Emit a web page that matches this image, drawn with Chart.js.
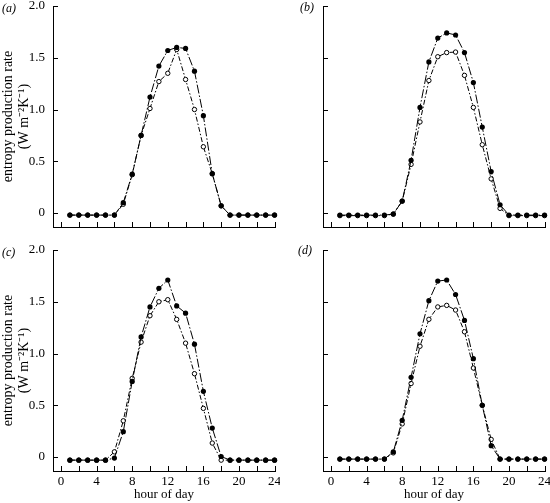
<!DOCTYPE html>
<html>
<head>
<meta charset="utf-8">
<script src="https://cdn.jsdelivr.net/npm/chart.js@4.4.0/dist/chart.umd.min.js"></script>
<style>
  body { margin: 0; background: #fff; }
  #wrap { position: relative; width: 550px; height: 503px; }
  .panel { position: absolute; }
  .tag { position: absolute; font: italic 12px 'Liberation Serif', serif; color: #000; }
</style>
</head>
<body>
<div id="wrap">
  <div class="panel" style="left:0;top:0;width:280px;height:235px"><canvas id="chartA" width="280" height="235"></canvas></div>
  <div class="panel" style="left:270px;top:0;width:280px;height:235px"><canvas id="chartB" width="280" height="235"></canvas></div>
  <div class="panel" style="left:0;top:235px;width:280px;height:268px"><canvas id="chartC" width="280" height="268"></canvas></div>
  <div class="panel" style="left:270px;top:235px;width:280px;height:268px"><canvas id="chartD" width="280" height="268"></canvas></div>
  <span class="tag" style="left:2px;top:1px">(a)</span>
  <span class="tag" style="left:300px;top:0px">(b)</span>
  <span class="tag" style="left:2px;top:245px">(c)</span>
  <span class="tag" style="left:298px;top:243px">(d)</span>
</div>
<script>
// hour of day for each point
const hours = [1, 2, 3, 4, 5, 6, 7, 8, 9, 10, 11, 12, 13, 14, 15, 16, 17, 18, 19, 20, 21, 22, 23, 24];

// (a)
const aFilled = [-0.02, -0.02, -0.02, -0.02, -0.02, -0.02, 0.10, 0.375, 0.75, 1.12, 1.42, 1.57, 1.60, 1.59, 1.37, 0.94, 0.38, 0.07, -0.02, -0.02, -0.02, -0.02, -0.02, -0.02];
const aOpen   = [-0.02, -0.02, -0.02, -0.02, -0.02, -0.02, 0.085, 0.37, 0.75, 1.01, 1.27, 1.35, 1.58, 1.29, 1.00, 0.64, 0.38, 0.07, -0.02, -0.02, -0.02, -0.02, -0.02, -0.02];
// (b)
const bFilled = [-0.02, -0.02, -0.02, -0.02, -0.02, -0.02, -0.01, 0.115, 0.51, 1.02, 1.46, 1.69, 1.74, 1.72, 1.55, 1.26, 0.83, 0.40, 0.08, -0.02, -0.02, -0.02, -0.02, -0.02];
const bOpen   = [-0.025, -0.025, -0.025, -0.025, -0.025, -0.025, -0.01, 0.115, 0.47, 0.88, 1.28, 1.51, 1.55, 1.555, 1.33, 1.02, 0.66, 0.33, 0.045, -0.025, -0.025, -0.025, -0.025, -0.025];
// (c)
const cFilled = [-0.03, -0.03, -0.03, -0.03, -0.03, -0.01, 0.245, 0.73, 1.16, 1.45, 1.63, 1.71, 1.46, 1.39, 1.09, 0.635, 0.28, 0.005, -0.03, -0.03, -0.03, -0.03, -0.03, -0.03];
const cOpen   = [-0.03, -0.03, -0.03, -0.03, -0.03, 0.05, 0.35, 0.76, 1.11, 1.365, 1.50, 1.52, 1.33, 1.10, 0.805, 0.47, 0.135, -0.03, -0.03, -0.03, -0.03, -0.03, -0.03, -0.03];
// (d)
const dFilled = [-0.02, -0.02, -0.02, -0.02, -0.02, -0.02, 0.05, 0.355, 0.77, 1.19, 1.51, 1.70, 1.71, 1.57, 1.32, 0.95, 0.50, 0.11, -0.02, -0.02, -0.02, -0.02, -0.02, -0.02];
const dOpen   = [-0.02, -0.02, -0.02, -0.02, -0.02, -0.02, 0.04, 0.32, 0.71, 1.07, 1.33, 1.45, 1.465, 1.42, 1.21, 0.86, 0.50, 0.17, -0.02, -0.02, -0.02, -0.02, -0.02, -0.02];

// axis ticks
const xTickMarks = [0, 2, 4, 6, 8, 10, 12, 14, 16, 18, 20, 22, 24];
const xTickLabels = [0, 4, 8, 12, 16, 20, 24];
const yTicks = [0, 0.5, 1.0, 1.5, 2.0];

const serif = "'Liberation Serif', 'Times New Roman', serif";

// ticks pointing into the plot
const inwardTicks = {
    id: 'inwardTicks',
    afterDraw(chart) {
        const ctx = chart.ctx;
        const area = chart.chartArea;
        const x = chart.scales.x, y = chart.scales.y;
        ctx.save();
        ctx.strokeStyle = '#000';
        ctx.lineWidth = 1;
        ctx.beginPath();
        xTickMarks.forEach(v => {
            const px = Math.round(x.getPixelForValue(v)) + 0.5;
            ctx.moveTo(px, area.bottom);
            ctx.lineTo(px, area.bottom - 5);
        });
        yTicks.forEach(v => {
            const py = Math.round(y.getPixelForValue(v)) + 0.5;
            ctx.moveTo(area.left, py);
            ctx.lineTo(area.left + 5, py);
        });
        ctx.stroke();
        ctx.restore();
    }
};

function makePanel(id, filled, open, opts) {
    const ctx = document.getElementById(id).getContext('2d');
    const h = ctx.canvas.height;
    return new Chart(ctx, {
        type: 'line',
        data: {
            datasets: [{
                label: 'filled',
                data: hours.map((hr, i) => ({ x: hr, y: filled[i] })),
                borderColor: '#000',
                borderWidth: 1,
                borderDash: [9, 2, 1.5, 2],
                pointRadius: 2.6,
                pointBackgroundColor: '#000',
                pointBorderColor: '#000',
                pointBorderWidth: 0,
                tension: 0
            }, {
                label: 'open',
                data: hours.map((hr, i) => ({ x: hr, y: open[i] })),
                borderColor: '#000',
                borderWidth: 1,
                borderDash: [5, 2, 1.5, 2],
                pointRadius: 2.2,
                pointBackgroundColor: '#fff',
                pointBorderColor: '#000',
                pointBorderWidth: 1,
                tension: 0
            }]
        },
        options: {
            responsive: false,
            animation: false,
            clip: false,
            layout: { padding: { left: 0, top: opts.top, right: 4, bottom: 0 } },
            plugins: { legend: { display: false }, tooltip: { enabled: false } },
            scales: {
                x: {
                    type: 'linear',
                    min: -0.9,
                    max: 24.05,
                    afterBuildTicks: s => { s.ticks = xTickMarks.map(v => ({ value: v })); },
                    afterFit: s => { s.height = h - opts.bottom; s.paddingLeft = 0; s.paddingRight = 0; },
                    grid: { display: true, drawOnChartArea: false, drawTicks: false },
                    border: { display: true, color: '#000', width: 1 },
                    ticks: {
                        display: opts.xLabels,
                        maxRotation: 0,
                        autoSkip: false,
                        padding: 3,
                        color: '#000',
                        font: { family: serif, size: 13 },
                        callback: v => xTickLabels.includes(v) ? String(v) : ''
                    },
                    title: {
                        display: opts.xLabels,
                        text: 'hour of day',
                        color: '#000',
                        font: { family: serif, size: 13 },
                        padding: { top: 0, bottom: 1 }
                    }
                },
                y: {
                    type: 'linear',
                    min: -0.135,
                    max: 2.0,
                    afterBuildTicks: s => { s.ticks = yTicks.map(v => ({ value: v })); },
                    afterFit: s => { s.width = 53; s.paddingTop = 0; s.paddingBottom = 0; },
                    grid: { display: true, drawOnChartArea: false, drawTicks: false },
                    border: { display: true, color: '#000', width: 1 },
                    ticks: {
                        display: opts.yLabels,
                        padding: 8,
                        color: '#000',
                        font: { family: serif, size: 13 },
                        callback: v => v === 0 ? '0' : v.toFixed(1)
                    },
                    title: {
                        display: opts.yLabels,
                        text: ['entropy production rate', '(W m\u207B\u00B2K\u207B\u00B9)'],
                        color: '#000',
                        font: { family: serif, size: 14, lineHeight: 1.15 },
                        padding: { top: 0, bottom: 0 }
                    }
                }
            }
        },
        plugins: [inwardTicks]
    });
}

makePanel('chartA', aFilled, aOpen, { top: 6, bottom: 227, xLabels: false, yLabels: true });
makePanel('chartB', bFilled, bOpen, { top: 6, bottom: 227, xLabels: false, yLabels: false });
makePanel('chartC', cFilled, cOpen, { top: 15, bottom: 236, xLabels: true, yLabels: true });
makePanel('chartD', dFilled, dOpen, { top: 15, bottom: 236, xLabels: true, yLabels: false });
</script>
</body>
</html>
